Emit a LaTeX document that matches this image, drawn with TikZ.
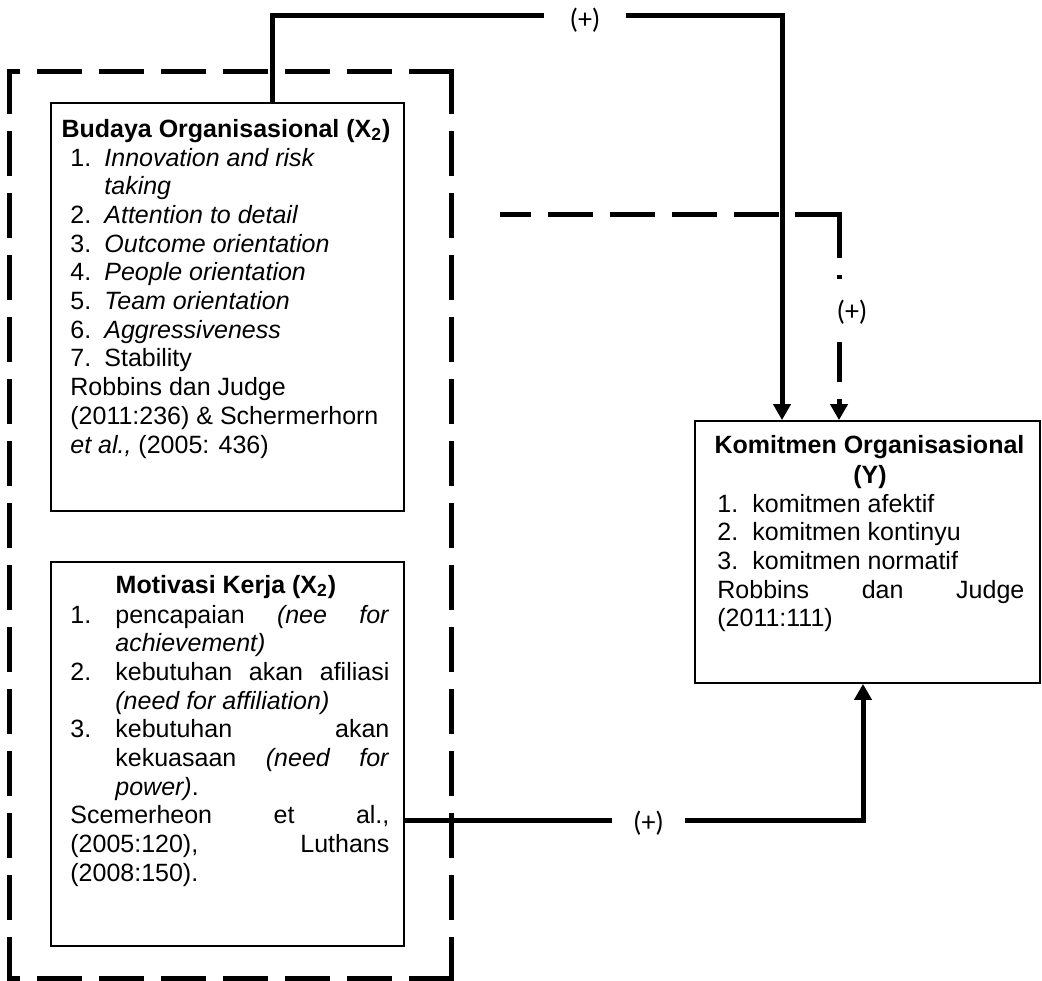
\documentclass[tikz,border=0pt]{standalone}
\usepackage{fontspec}
\setmainfont{Liberation Sans}
\newfontfamily\plusfont{Carlito}
\usetikzlibrary{arrows.meta}
\newcommand\bodyfont{\fontsize{12.5}{14.35}\selectfont}
\begin{document}
\begin{tikzpicture}[x=0.5pt,y=-0.5pt,
  box/.style={draw, line width=0.9pt, inner sep=0pt, rectangle},
  grpside/.style={line width=2.5pt, line cap=rect, dash pattern=on 20pt off 11pt},
  sconn/.style={line width=2.5pt, -{Triangle[width=8.5pt,length=8pt]}},
  dconn/.style={sconn, dash pattern=on 15.5pt off 8.5pt on 22.5pt off 8.5pt on 22.5pt off 8.5pt on 22.5pt off 8.5pt on 22.5pt off 8pt on 44pt off 8.5pt on 2pt off 31.5pt on 20pt off 8.5pt on 60pt off 10pt},
  plus/.style={fill=white, font=\plusfont\fontsize{14}{16}\selectfont, inner sep=0pt},
  txt/.style={inner sep=0pt, font=\bodyfont}]
\useasboundingbox (0,0) rectangle (1042,980);

% group (dashed frame) and boxes
\node[inner sep=0pt, minimum width=220.5pt, minimum height=453pt] (grp) at (230.5,525) {};
\draw[grpside] (grp.north east) -- (grp.north west);
\draw[grpside] (grp.south east) -- (grp.south west);
\draw[grpside] (grp.north east) -- (grp.south east);
\draw[grpside] (grp.north west) -- (grp.south west);
\node[box, minimum width=176.5pt, minimum height=204pt] (budaya) at (227.5,307) {};
\node[box, minimum width=176.5pt, minimum height=192pt] (motiv) at (227.5,754) {};
\node[box, minimum width=172.5pt, minimum height=131pt] (komit) at (867.5,552) {};

% Budaya text
\node[txt, anchor=base] (bt) at (226,137) {\textbf{Budaya Organisasional (X\textsubscript{2})}};
\node[txt, anchor=base west] (bb) at (70,166) {\parbox[t]{170pt}{\bodyfont
\makebox[17pt][l]{1.}\textit{Innovation and risk}\\
\hspace*{17pt}\textit{taking}\\
\makebox[17pt][l]{2.}\textit{Attention to detail}\\
\makebox[17pt][l]{3.}\textit{Outcome orientation}\\
\makebox[17pt][l]{4.}\textit{People orientation}\\
\makebox[17pt][l]{5.}\textit{Team orientation}\\
\makebox[17pt][l]{6.}\textit{Aggressiveness}\\
\makebox[17pt][l]{7.}Stability\\
Robbins dan Judge\\
(2011:236) \& Schermerhorn\\
\textit{et al.,} (2005: 436)}};

% Motivasi text
\node[txt, anchor=base] (mt) at (226,593) {\textbf{Motivasi Kerja (X\textsubscript{2})}};
\node[txt, anchor=base west] (mb) at (70,623) {\parbox[t]{170pt}{\bodyfont
\makebox[22.5pt][l]{1.}\makebox[137pt][s]{pencapaian \textit{(nee for}}\\
\hspace*{22.5pt}\textit{achievement)}\\
\makebox[22.5pt][l]{2.}\makebox[137pt][s]{kebutuhan akan afiliasi}\\
\hspace*{22.5pt}\textit{(need for affiliation)}\\
\makebox[22.5pt][l]{3.}\makebox[137pt][s]{kebutuhan akan}\\
\hspace*{22.5pt}\makebox[137pt][s]{kekuasaan \textit{(need for}}\\
\hspace*{22.5pt}\textit{power)}.\\
\makebox[159.5pt][s]{Scemerheon et al.,}\\
\makebox[159.5pt][s]{(2005:120), Luthans}\\
(2008:150).}};

% Komitmen text
\node[txt, anchor=base] (kt) at (869.5,453) {\textbf{Komitmen Organisasional}};
\node[txt, anchor=base] (ky) at (870,483) {\textbf{(Y)}};
\node[txt, anchor=base west] (kb) at (717,512) {\parbox[t]{170pt}{\bodyfont
\makebox[17.5pt][l]{1.}komitmen afektif\\
\makebox[17.5pt][l]{2.}komitmen kontinyu\\
\makebox[17.5pt][l]{3.}komitmen normatif\\
\makebox[153.5pt][s]{Robbins dan Judge}\\
(2011:111)}};

% connectors
\coordinate (ta) at (272,15);
\coordinate (tb) at (782,15);
\coordinate (dc) at (839,214);
\coordinate (bc) at (863,820);
\draw[sconn] (budaya.north -| ta) -- (ta) -- (tb) -- (komit.north -| tb);
\draw[dconn, shorten <=24.5pt] (grp.east |- dc) -- (dc) -- (komit.north -| dc);
\draw[sconn] (motiv.east |- bc) -- (bc) -- (komit.south -| bc);

% labels
\node[plus, minimum width=41pt] (p1) at (585,20) {(+)};
\node[plus, minimum width=20pt, minimum height=26pt] (p2) at (852,312) {(+)};
\node[plus, minimum width=36.5pt] (p3) at (648.5,823) {(+)};
\end{tikzpicture}
\end{document}
